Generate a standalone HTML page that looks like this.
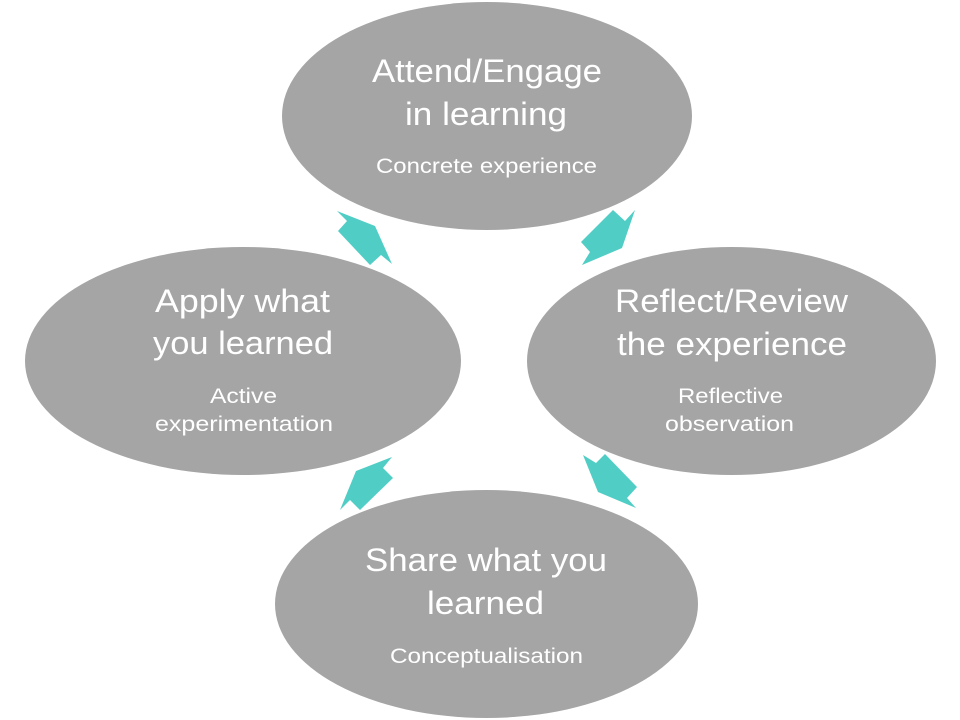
<!DOCTYPE html>
<html>
<head>
<meta charset="utf-8">
<style>
  html, body { margin: 0; padding: 0; background: #ffffff; }
  svg { display: block; }
  text { font-family: "Liberation Sans", "DejaVu Sans", sans-serif; fill: #ffffff; }
  .t { font-size: 32px; }
  .s { font-size: 21px; }
</style>
</head>
<body>
<svg width="960" height="720" viewBox="0 0 960 720" xmlns="http://www.w3.org/2000/svg">
  <rect width="960" height="720" fill="#ffffff"/>
  <!-- ellipses -->
  <ellipse cx="487" cy="116" rx="205" ry="114" fill="#a5a5a5"/>
  <ellipse cx="243" cy="361" rx="218" ry="114" fill="#a5a5a5"/>
  <ellipse cx="731.5" cy="361" rx="204.5" ry="114" fill="#a5a5a5"/>
  <ellipse cx="486.5" cy="604" rx="211.5" ry="114" fill="#a5a5a5"/>

  <!-- arrows -->
  <polygon fill="#50cec5" points="337,211 375,226 392,264 381,255 370,265 338,231 347,221"/>
  <polygon fill="#50cec5" points="581,242 613,210 625,221 635,210 622,248 582,265 590,252"/>
  <polygon fill="#50cec5" points="583,455 596,463 605,454 637,487 627,498 636,508 598,492"/>
  <polygon fill="#50cec5" points="392,457 356,471 340,510 350,500 360,510 393,478 383,468"/>

  <!-- top -->
  <text class="t" x="372" y="82" textLength="230" lengthAdjust="spacingAndGlyphs">Attend/Engage</text>
  <text class="t" x="405" y="125" textLength="162" lengthAdjust="spacingAndGlyphs">in learning</text>
  <text class="s" x="376" y="173" textLength="221" lengthAdjust="spacingAndGlyphs">Concrete experience</text>

  <!-- right -->
  <text class="t" x="615" y="312" textLength="233" lengthAdjust="spacingAndGlyphs">Reflect/Review</text>
  <text class="t" x="617" y="355" textLength="230" lengthAdjust="spacingAndGlyphs">the experience</text>
  <text class="s" x="678" y="403" textLength="105" lengthAdjust="spacingAndGlyphs">Reflective</text>
  <text class="s" x="665" y="431" textLength="129" lengthAdjust="spacingAndGlyphs">observation</text>

  <!-- left -->
  <text class="t" x="155" y="312" textLength="175" lengthAdjust="spacingAndGlyphs">Apply what</text>
  <text class="t" x="153" y="354" textLength="180" lengthAdjust="spacingAndGlyphs">you learned</text>
  <text class="s" x="210" y="403" textLength="67" lengthAdjust="spacingAndGlyphs">Active</text>
  <text class="s" x="155" y="431" textLength="178" lengthAdjust="spacingAndGlyphs">experimentation</text>

  <!-- bottom -->
  <text class="t" x="365" y="571" textLength="242" lengthAdjust="spacingAndGlyphs">Share what you</text>
  <text class="t" x="427" y="614" textLength="117" lengthAdjust="spacingAndGlyphs">learned</text>
  <text class="s" x="390" y="663" textLength="193" lengthAdjust="spacingAndGlyphs">Conceptualisation</text>
</svg>
</body>
</html>
